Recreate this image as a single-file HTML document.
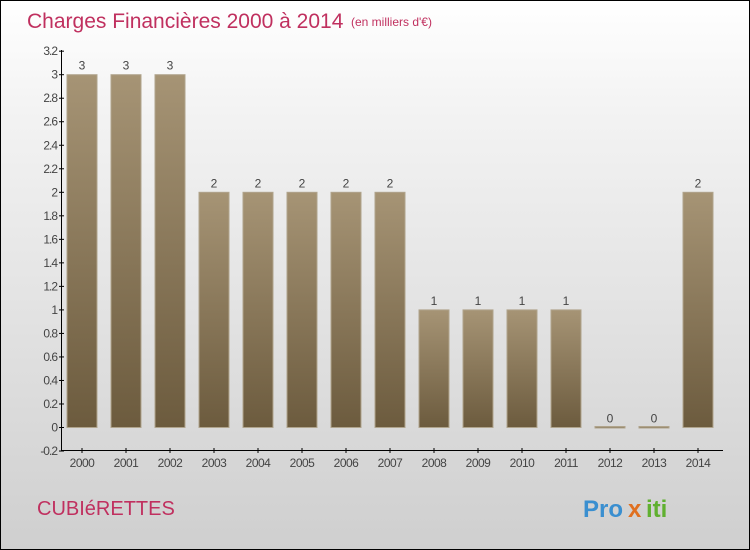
<!DOCTYPE html>
<html><head><meta charset="utf-8"><style>
body{margin:0}
#c{position:relative;width:748px;height:548px;border:1px solid #000;background:linear-gradient(#fff,#f3f3f3 20%,#cfcfcf);font-family:"Liberation Sans",sans-serif;overflow:hidden}
</style></head><body>
<div id="c">
<svg width="748" height="548" xmlns="http://www.w3.org/2000/svg" id="s">
<defs><linearGradient id="g" x1="0" y1="0" x2="0" y2="1"><stop offset="0" stop-color="#a69475"/><stop offset="1" stop-color="#6c5b3e"/></linearGradient></defs>
<text x="26" y="27" font-size="21" fill="#c0305f">Charges Financières 2000 à 2014</text>
<text x="350" y="25" font-size="12" fill="#c0305f">(en milliers d'€)</text>
<text x="36" y="514" font-size="20" fill="#c0305f">CUBIéRETTES</text>
<g font-size="24" font-weight="bold"><text x="582" y="516" fill="#3a8fd0">Pro</text><text x="627" y="516" fill="#e07020">x</text><text x="645" y="516" fill="#60b030">iti</text></g>
<g id="ax"></g><g id="bars"></g>
</svg></div>
<script>
const years=["2000","2001","2002","2003","2004","2005","2006","2007","2008","2009","2010","2011","2012","2013","2014"];
const values=[3,3,3,2,2,2,2,2,1,1,1,1,0,0,2];
const labels=["3","3","3","2","2","2","2","2","1","1","1","1","0","0","2"];
const yTicks=["-0.2","0","0.2","0.4","0.6","0.8","1","1.2","1.4","1.6","1.8","2","2.2","2.4","2.6","2.8","3","3.2"];
const NS="http://www.w3.org/2000/svg";
const y=v=>426.5-(v)*117.6;
const x=i=>81+i*44;
function el(t,a,p){const e=document.createElementNS(NS,t);for(const k in a)e.setAttribute(k,a[k]);p.appendChild(e);return e;}
const ax=document.getElementById('ax'),bars=document.getElementById('bars');
let l=el('line',{x1:60.5,y1:49,x2:60.5,y2:450,stroke:'#000'},ax);


l=el('line',{x1:60,y1:449.5,x2:722,y2:449.5,stroke:'#000'},ax);


yTicks.forEach(t=>{const v=parseFloat(t),py=y(v);
el('line',{x1:58,x2:63,y1:py,y2:py,stroke:'#000'},ax);
const tx=el('text',{x:56,y:py+4,'font-size':12,'text-anchor':'end',fill:'#444','letter-spacing':'-1'},ax);tx.textContent=t;

});
years.forEach((yr,i)=>{const cx=x(i);
el('line',{x1:cx,x2:cx,y1:447,y2:452,stroke:'#000'},ax);
const tx=el('text',{x:cx,y:466,'font-size':12,'text-anchor':'middle',fill:'#444','letter-spacing':'-0.5'},ax);tx.textContent=yr;


const v=values[i],top=y(v),h=Math.max(y(0)-top,1.5);
const r=el('rect',{x:cx-15,y:v>0?top:y(0)-1,width:30,height:h,fill:'url(#g)',stroke:'#b0a48c','stroke-width':1},bars);


const lt=el('text',{x:cx,y:(v>0?top:y(0))-5,'font-size':12,'text-anchor':'middle',fill:'#444'},bars);lt.textContent=labels[i];

});
</script>
</body></html>
